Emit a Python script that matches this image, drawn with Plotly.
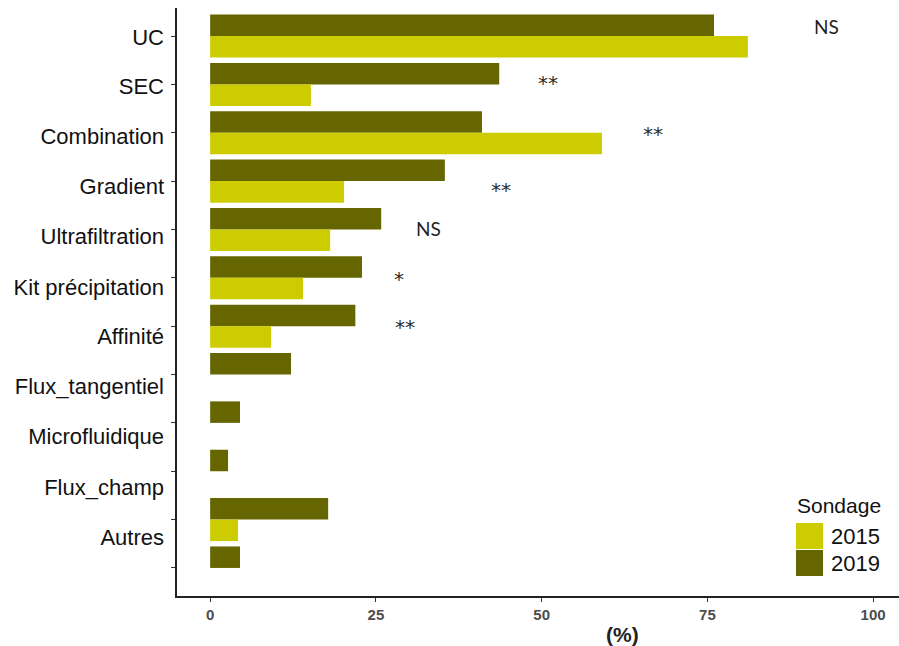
import plotly.graph_objects as go

# Isolation methods, survey results (%)
methods = ["UC", "SEC", "Combination", "Gradient", "Ultrafiltration",
           "Kit précipitation", "Affinité", "Flux_tangentiel", "Microfluidique",
           "Flux_champ", "Autres"]
slots = list(range(12))
pct_2019 = [76.0, 43.6, 41.0, 35.4, 25.8, 22.9, 21.9, 12.2, 4.5, 2.7, 17.8, 4.5]
pct_2015 = [81.1, 15.2, 59.1, 20.2, 18.1, 14.0, 9.2, 0, 0, 0, 4.2, 0]
x_ticks = [0, 25, 50, 75, 100]

# significance marks
sig_text = ["NS", "**", "**", "**", "NS", "*", "**"]
sig_x = [93.0, 51.0, 66.8, 43.9, 32.9, 28.5, 29.4]
sig_y = [-0.19, 0.89, 1.94, 3.10, 3.97, 4.94, 5.93]

label_y = [0.02, 1.03, 2.07, 3.10, 4.14, 5.19, 6.20, 7.24, 8.28, 9.33, 10.36]

C2015 = "#cccc00"
C2019 = "#666600"

fig = go.Figure()
fig.add_trace(go.Bar(y=slots, x=pct_2019, orientation="h", name="2019",
                     marker=dict(color=C2019, line=dict(width=0))))
fig.add_trace(go.Bar(y=slots, x=pct_2015, orientation="h", name="2015",
                     marker=dict(color=C2015, line=dict(width=0))))

yr = [11.58, -0.58]
fig.update_layout(
    width=899, height=646,
    margin=dict(l=177, r=0, t=8, b=50),
    plot_bgcolor="white", paper_bgcolor="white",
    barmode="group", bargap=0.11, bargroupgap=0,
    showlegend=False,
    font=dict(family="Liberation Sans, Arial, sans-serif", color="#111111"),
    xaxis=dict(range=[-5, 103.9], tickvals=x_ticks, showgrid=False, zeroline=False,
               showline=True, linecolor="#222222", linewidth=2,
               ticks="outside", ticklen=4, tickcolor="#333333",
               tickfont=dict(size=15, color="#4d4d4d", weight="bold",
                             family="Liberation Sans, Arial")),
    yaxis=dict(range=yr, tickvals=slots, ticktext=[""] * len(slots),
               showgrid=False, zeroline=False, showline=True,
               linecolor="#222222", linewidth=2, ticks="outside", ticklen=4,
               tickcolor="#333333"),
    yaxis2=dict(range=yr, overlaying="y", anchor="x", side="left",
                tickvals=label_y, ticktext=methods, showgrid=False,
                zeroline=False, showline=False, ticks="",
                ticklabelstandoff=12,
                tickfont=dict(size=22, color="#111111")),
)

# keep the label axis alive with an invisible trace
fig.add_trace(go.Scatter(x=[None], y=[None], yaxis="y2", showlegend=False,
                         hoverinfo="skip"))

for t, x, y in zip(sig_text, sig_x, sig_y):
    if t == "NS":
        f = dict(family="Lato, Open Sans, sans-serif", size=19, color="#1f1f1f")
        yshift = 0
    else:
        f = dict(family="DejaVu Sans, sans-serif", size=20, color="#2a2a2a")
        yshift = -4
    fig.add_annotation(x=x, y=y, text=t, showarrow=False, font=f, yshift=yshift)


def px_x(p):
    return (p - 177) / 722


def px_y(p):
    return (596 - p) / 588


# x-axis title
fig.add_annotation(xref="paper", yref="paper", x=px_x(622), y=px_y(634),
                   xanchor="center", yanchor="middle", text="<b>(%)</b>",
                   showarrow=False, font=dict(size=21, color="#222222"))

# legend block
fig.add_annotation(xref="paper", yref="paper", x=px_x(795), y=px_y(505),
                   xanchor="left", yanchor="middle", text="Sondage",
                   showarrow=False, font=dict(size=21, color="#111111"))
for label, col, top in [("2015", C2015, 523), ("2019", C2019, 550)]:
    fig.add_shape(type="rect", xref="paper", yref="paper",
                  x0=px_x(796), x1=px_x(823), y0=px_y(top + 26), y1=px_y(top),
                  fillcolor=col, line=dict(width=0))
    fig.add_annotation(xref="paper", yref="paper", x=px_x(829), y=px_y(top + 13),
                       xanchor="left", yanchor="middle", text=label,
                       showarrow=False, font=dict(size=22, color="#111111"))

fig.write_html("out.html")
